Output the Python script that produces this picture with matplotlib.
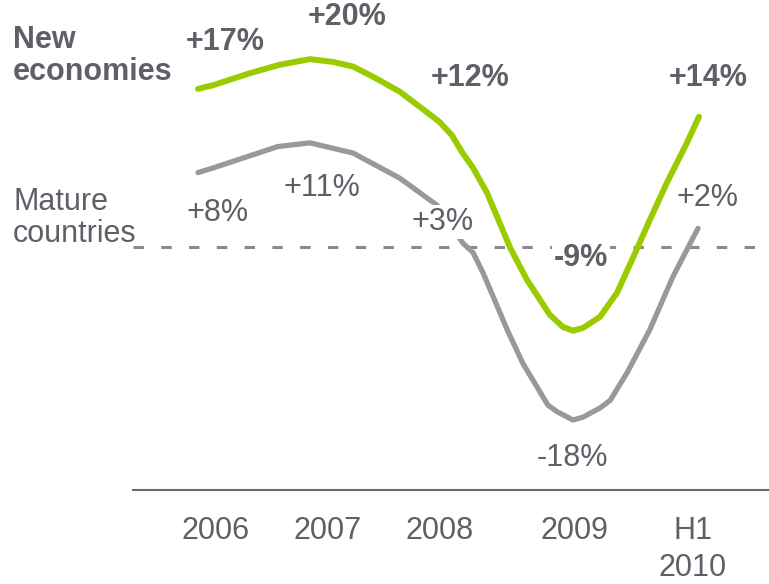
import matplotlib
matplotlib.use("Agg")
import matplotlib.pyplot as plt

# ---- data (position along time axis 0..100, growth in %) ----
green_x = [0, 3.0, 10.4, 16.3, 22.3, 26.9, 30.9, 34.9, 40.2, 46.8, 48.2, 50.6, 52.6,
           54.8, 57.6, 62.2, 65.5, 70.1, 72.7, 74.7, 76.7, 80.1, 83.5, 86.7, 90.0,
           93.4, 97.4, 99.8]
green_y = [17.0, 17.4, 18.7, 19.6, 20.2, 19.9, 19.4, 18.3, 16.7, 14.0, 13.4, 12.0, 10.2,
           8.5, 5.8, -0.1, -3.5, -7.3, -8.6, -9.0, -8.7, -7.5, -4.9, -1.1, 2.9,
           6.9, 11.2, 14.0]
gray_x = [0, 3.0, 15.9, 22.3, 30.9, 40.2, 47.6, 52.8, 54.8, 56.8, 61.6, 64.7, 69.7,
          71.5, 74.7, 76.7, 80.1, 82.1, 85.5, 90.0, 94.6, 99.6]
gray_y = [8.0, 8.5, 10.8, 11.2, 10.1, 7.4, 4.5, 0.4, -0.6, -2.8, -8.9, -12.5, -17.0,
          -17.7, -18.6, -18.3, -17.3, -16.5, -13.5, -8.9, -3.2, 2.0]

categories = ["2006", "2007", "2008", "2009", "H1\n2010"]
cat_pos = [3.4, 25.9, 48.2, 75.1, 98.6]

green_labels = ["+17%", "+20%", "+12%", "-9%", "+14%"]
gray_labels = ["+8%", "+11%", "+3%", "-18%", "+2%"]
series_names = ["New\neconomies", "Mature\ncountries"]

# ---- style ----
TXT = "#5f6067"
GREEN = "#99cc00"
GREY = "#999999"
W, H = 769, 584
plt.rcParams["font.family"] = ["Liberation Sans", "DejaVu Sans"]
plt.rcParams["lines.scale_dashes"] = False

fig = plt.figure(figsize=(W / 100, H / 100), dpi=100)
ax = fig.add_axes([133 / W, 94 / H, 636 / W, 490 / H])
ax.set_xlim(-12.95, 113.75)
ax.set_ylim(-26.13, 26.56)

ax.plot(green_x, green_y, color=GREEN, lw=4.3, solid_capstyle="round",
        solid_joinstyle="round", zorder=3)
ax.plot(gray_x, gray_y, color=GREY, lw=3.8, solid_capstyle="round",
        solid_joinstyle="round", zorder=2)
ax.axhline(0, color="#8a8a8a", lw=2.2, dashes=(7.5, 12.5), zorder=1)

for s in ["top", "right", "left"]:
    ax.spines[s].set_visible(False)
ax.spines["bottom"].set_color("#6a6a6a")
ax.spines["bottom"].set_linewidth(1.5)
ax.set_yticks([])
ax.set_xticks(cat_pos)
ax.set_xticklabels(categories, fontsize=22, color=TXT, linespacing=1.3)
ax.tick_params(axis="x", length=0, pad=19)


def px(x, y):
    return x / W, 1 - y / H


# label pixel positions (layout)
green_lab_pos = [(225, 42), (347, 17), (470, 78), (581, 258), (708, 78)]
gray_lab_pos = [(218, 213), (322, 188), (443, 222), (572, 458), (707, 198)]

for t, (x, y) in zip(green_labels, green_lab_pos):
    bb = dict(facecolor="white", edgecolor="none", pad=1) if t == "-9%" else None
    fig.text(*px(x, y), t, fontsize=22, fontweight="bold", color=TXT,
             ha="center", va="center", bbox=bb, zorder=5)
for t, (x, y) in zip(gray_labels, gray_lab_pos):
    bb = dict(facecolor="white", edgecolor="none", pad=1) if t == "+3%" else None
    fig.text(*px(x, y), t, fontsize=22, color=TXT,
             ha="center", va="center", bbox=bb, zorder=5)

fig.text(*px(13, 56), series_names[0], fontsize=22, fontweight="bold", color=TXT,
         ha="left", va="center", linespacing=1.07)
fig.text(*px(13, 218), series_names[1], fontsize=22, color=TXT,
         ha="left", va="center", linespacing=1.07)

fig.savefig("out.png", dpi=100)
